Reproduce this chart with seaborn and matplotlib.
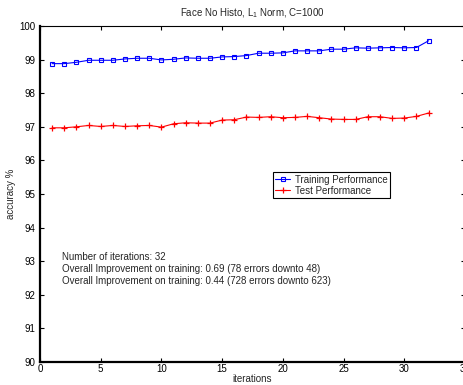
import matplotlib
matplotlib.use("Agg")
import matplotlib.pyplot as plt
import seaborn as sns
import numpy as np
import pandas as pd

iterations = list(range(1, 33))
training = [98.88, 98.88, 98.92, 98.98, 98.98, 98.98, 99.02, 99.04, 99.04, 98.99,
            99.01, 99.05, 99.04, 99.04, 99.08, 99.09, 99.12, 99.19, 99.19, 99.20,
            99.26, 99.26, 99.26, 99.31, 99.31, 99.35, 99.34, 99.35, 99.36, 99.35,
            99.36, 99.56]
test = [96.97, 96.97, 97.00, 97.04, 97.01, 97.04, 97.01, 97.03, 97.04, 96.99,
        97.09, 97.12, 97.11, 97.11, 97.20, 97.21, 97.29, 97.28, 97.30, 97.27,
        97.28, 97.31, 97.27, 97.23, 97.22, 97.22, 97.30, 97.30, 97.25, 97.26,
        97.31, 97.41]
notes = [
    "Number of iterations: 32",
    "Overall Improvement on training: 0.69 (78 errors downto 48)",
    "Overall Improvement on training: 0.44 (728 errors downto 623)",
]

sns.set_style("ticks")
plt.rcParams["font.family"] = ["Liberation Sans", "DejaVu Sans"]
plt.rcParams["mathtext.default"] = "regular"
plt.rcParams["font.size"] = 7

df = pd.DataFrame({"iteration": iterations, "train": training, "test": test})

fig = plt.figure(figsize=(4.63, 3.85), dpi=100)
ax = fig.add_axes([40 / 463, 23 / 385, 425 / 463, 336 / 385])

sns.lineplot(data=df, x="iteration", y="train", ax=ax, color="blue", lw=0.8,
             marker="s", markersize=3.2, markerfacecolor="none",
             markeredgecolor="blue", markeredgewidth=0.8,
             label="Training Performance")
sns.lineplot(data=df, x="iteration", y="test", ax=ax, color="red", lw=0.8,
             marker="+", markersize=5, markeredgewidth=0.9,
             markeredgecolor="red", label="Test Performance")

ax.set_xlim(0, 35)
ax.set_ylim(90, 100)
ax.set_xticks(np.arange(0, 36, 5))
ax.set_yticks(np.arange(90, 101, 1))
ax.tick_params(direction="in", top=True, right=True, length=3, width=0.8,
               labelsize=7, colors="black")
ax.tick_params(axis="x", pad=1.5)
ax.tick_params(axis="y", pad=3)
for side in ["top", "right"]:
    ax.spines[side].set_visible(True)
for side, sp in ax.spines.items():
    sp.set_color("black")
    sp.set_linewidth(1.6 if side in ("left", "bottom") else 0.8)

ax.set_title("Face No Histo, L$_1$ Norm, C=1000", fontsize=7, pad=7)
ax.set_xlabel("iterations", fontsize=7, labelpad=0)
ax.set_ylabel("accuracy %", fontsize=7, labelpad=3)

for k, line in enumerate(notes):
    ax.text(1.81, 93.12 - 0.35 * k, line, fontsize=7, va="center", ha="left")

leg = ax.legend(loc="upper left", bbox_to_anchor=(0.548, 0.565), fontsize=7,
                frameon=True, fancybox=False, framealpha=1, edgecolor="black",
                handlelength=1.5, handletextpad=0.5, borderpad=0.25,
                labelspacing=0.1, borderaxespad=0)
leg.get_frame().set_linewidth(0.8)

fig.savefig("out.png", dpi=100)
plt.close(fig)
